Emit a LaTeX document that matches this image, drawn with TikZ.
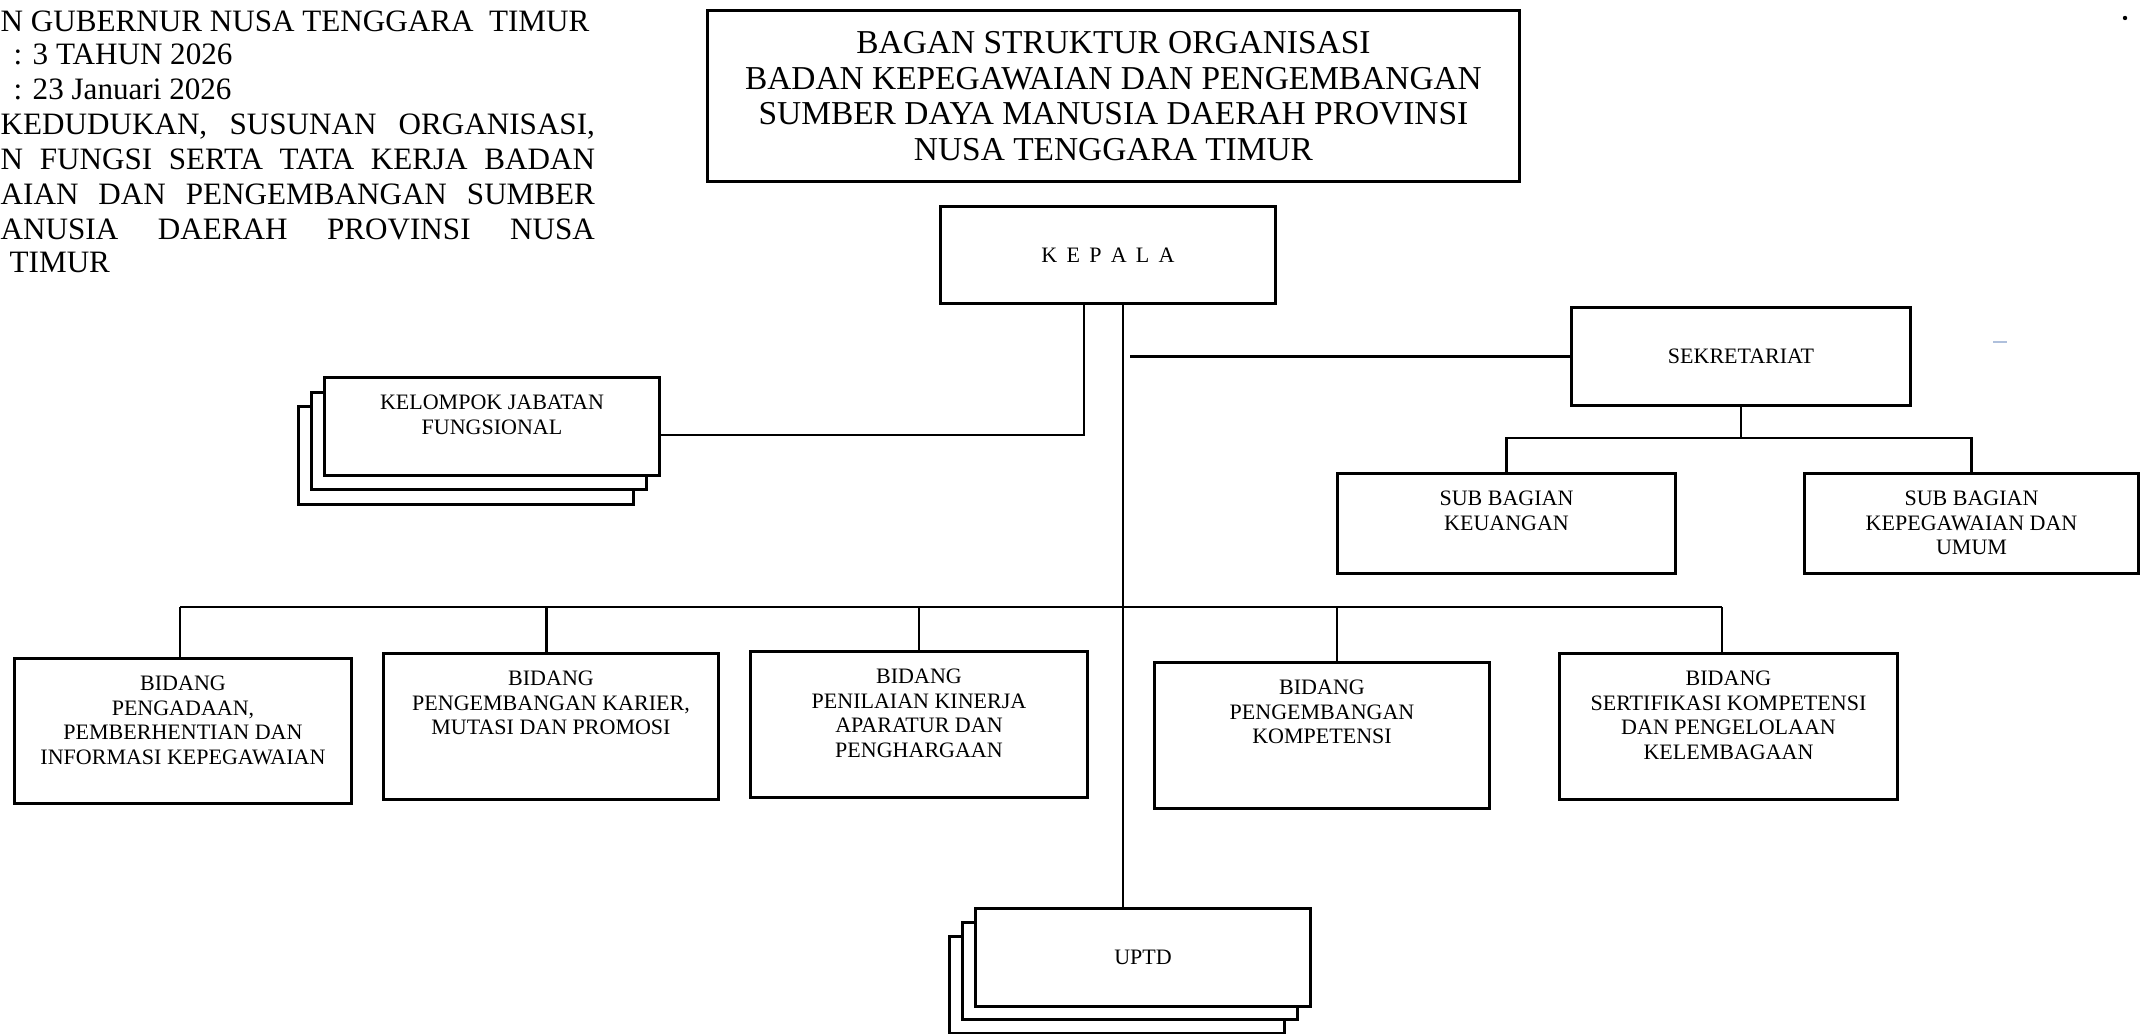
\documentclass[tikz,border=0pt]{standalone}
\usepackage{fontspec}
\setmainfont{Liberation Serif}
\usetikzlibrary{positioning}
\definecolor{scanspeck}{RGB}{175,192,220}
\newcommand{\boxfont}{\fontsize{6.26pt}{7pt}\selectfont}
\newcommand{\unittext}[3]{\parbox[c][#2][t]{#1}{\centering\vspace*{0.17cm}#3}}

\begin{document}
\begin{tikzpicture}[x=0.01cm,y=-0.01cm,
  every node/.style={font=\boxfont},
  unitbox/.style={draw,line width=0.85pt,fill=white,inner sep=0pt},
  flatbox/.style={unitbox,minimum width=3.34cm,minimum height=0.97cm},
  link/.style={line width=0.8pt},
  hdr/.style={anchor=base west,inner sep=0pt,
   font=\fontsize{8.85pt}{9.9pt}\selectfont}]
 \useasboundingbox (0,0) rectangle (2146,1034);
 % header text (cut at the left edge)
 \node[hdr] (hdr1) at (0,32) {N GUBERNUR NUSA TENGGARA~ TIMUR};
 \node[hdr] (hdr2) at (13,65) {: 3 TAHUN 2026};
 \node[hdr] (hdr3) at (13,100) {: 23 Januari 2026};
 \node[hdr] (hdr4) at (0,135) {\makebox[5.94cm][s]{KEDUDUKAN, SUSUNAN ORGANISASI,}};
 \node[hdr] (hdr5) at (0,170) {\makebox[5.94cm][s]{N FUNGSI SERTA TATA KERJA BADAN}};
 \node[hdr] (hdr6) at (0,205) {\makebox[5.94cm][s]{AIAN DAN PENGEMBANGAN SUMBER}};
 \node[hdr] (hdr7) at (0,240) {\makebox[5.94cm][s]{ANUSIA DAERAH PROVINSI NUSA}};
 \node[hdr] (hdr8) at (9,273) {TIMUR};
 % title
 \node[draw,line width=0.85pt,minimum width=8.11cm,minimum height=1.70cm,
  align=center,font=\fontsize{9.5pt}{10.15pt}\selectfont] (judul) at (1113.5,96)
  {BAGAN STRUKTUR ORGANISASI\\BADAN KEPEGAWAIAN DAN PENGEMBANGAN\\
   SUMBER DAYA MANUSIA DAERAH PROVINSI\\NUSA TENGGARA TIMUR};
 % units
 \node[flatbox,minimum height=0.96cm] (kepala) at (1108,255)
  {\makebox[1.33cm][s]{K E P A L A}};
 \node[flatbox,minimum width=3.38cm] (sekre) at (1741,356.5) {SEKRETARIAT};
 \node[unitbox] (keu) at (1506.5,523.5)
  {\unittext{3.37cm}{0.99cm}{SUB BAGIAN\\KEUANGAN}};
 \node[unitbox] (kepeg) at (1971.5,523.5)
  {\unittext{3.33cm}{0.99cm}{SUB BAGIAN\\KEPEGAWAIAN DAN\\UMUM}};
 \node[flatbox] (kjf3) at (466,455.5) {};
 \node[flatbox] (kjf2) at (479,441) {};
 \node[unitbox] (kjf) at (492,426.5)
  {\unittext{3.34cm}{0.97cm}{KELOMPOK JABATAN\\FUNGSIONAL}};
 \node[unitbox] (bid1) at (183,731)
  {\unittext{3.36cm}{1.44cm}{BIDANG\\PENGADAAN,\\PEMBERHENTIAN DAN\\INFORMASI KEPEGAWAIAN}};
 \node[unitbox] (bid2) at (551,726.5)
  {\unittext{3.34cm}{1.45cm}{BIDANG\\PENGEMBANGAN KARIER,\\MUTASI DAN PROMOSI}};
 \node[unitbox] (bid3) at (919,724.5)
  {\unittext{3.36cm}{1.45cm}{BIDANG\\PENILAIAN KINERJA\\APARATUR DAN\\PENGHARGAAN}};
 \node[unitbox] (bid4) at (1322,735.5)
  {\unittext{3.34cm}{1.45cm}{BIDANG\\PENGEMBANGAN\\KOMPETENSI}};
 \node[unitbox] (bid5) at (1728.5,726.5)
  {\unittext{3.37cm}{1.45cm}{BIDANG\\SERTIFIKASI KOMPETENSI\\DAN PENGELOLAAN\\KELEMBAGAAN}};
 \node[flatbox] (uptd3) at (1117,985) {};
 \node[flatbox] (uptd2) at (1130,971) {};
 \node[flatbox] (uptd) at (1143,957.5) {UPTD};
 % connectors
 \coordinate (busL) at (180,607);
 \coordinate (busR) at (1722,607);
 \coordinate (sekreJoin) at (1130,355);
 \coordinate (subJoin) at (1741,438);
 \draw[link] ([xshift=-0.24cm]kepala.south) |- ([yshift=-0.085cm]kjf.east);
 \draw[link] ([xshift=0.15cm]kepala.south) -- ([xshift=0.15cm]kepala.south |- uptd.north);
 \draw[link] (sekre.west) -- (sekre.west -| sekreJoin);
 \draw[link] (sekre.south) -- (subJoin);
 \draw[link] (keu.north) |- (subJoin) -| (kepeg.north);
 \draw[link] (busL) -- (busR);
 \draw[link] (bid1.north -| busL) -- (busL);
 \draw[link] ([xshift=-0.045cm]bid2.north) -- ([xshift=-0.045cm]bid2.north |- busL);
 \draw[link] (bid3.north) -- (bid3.north |- busL);
 \draw[link] ([xshift=0.15cm]bid4.north) -- ([xshift=0.15cm]bid4.north |- busL);
 \draw[link] (bid5.north -| busR) -- (busR);
 % specks of the scan
 \fill (2125,18) circle[radius=0.022cm];
 \draw[line width=0.8pt,scanspeck] (1993,342) -- (2007,342);
\end{tikzpicture}
\end{document}
